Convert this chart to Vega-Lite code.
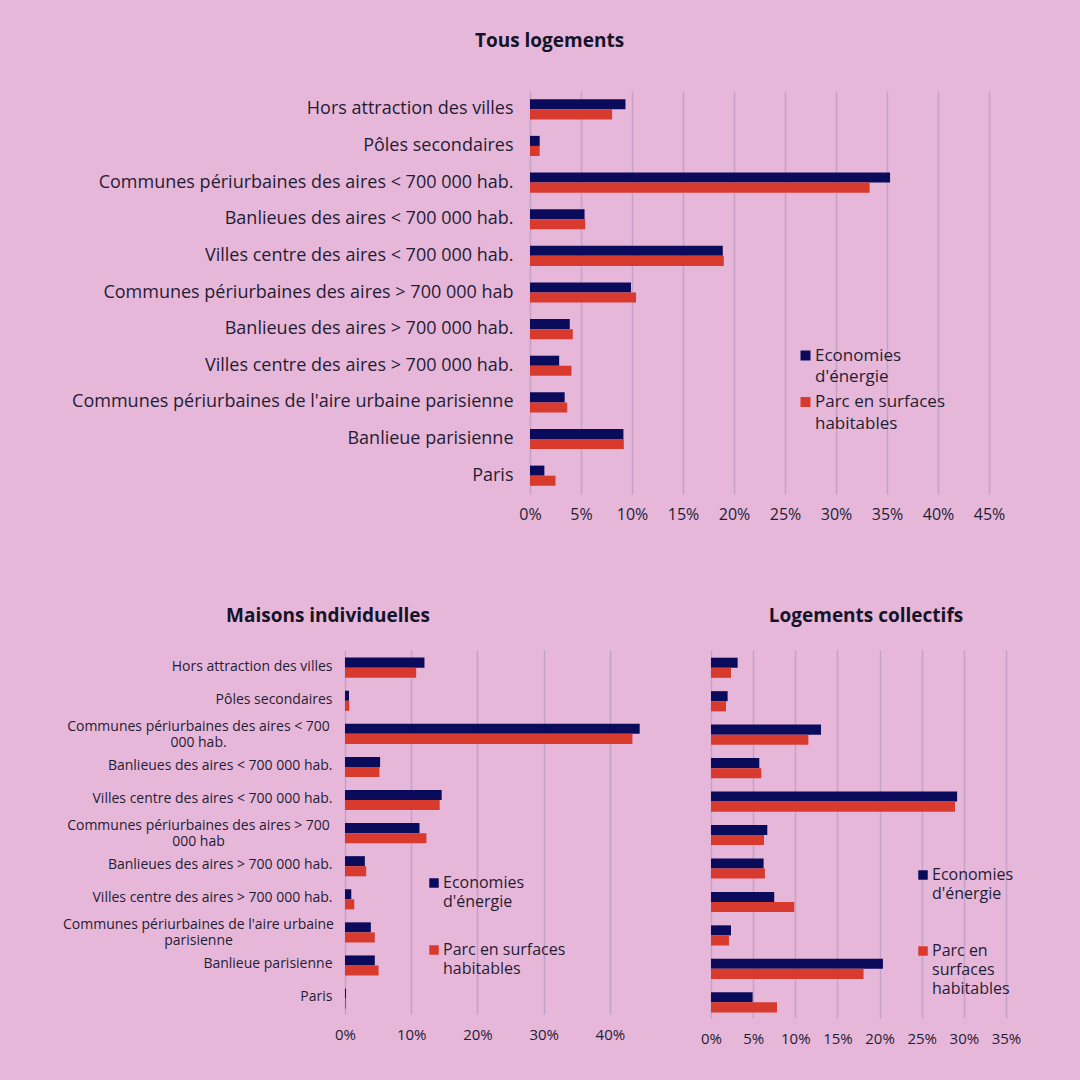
{
  "$schema": "https://vega.github.io/schema/vega-lite/v6.json",
  "background": "#e7b7da",
  "padding": {"left": 62, "top": 31, "right": 90, "bottom": 90},
  "config": {
    "view": {"stroke": null},
    "font": "Open Sans",
    "axis": {"labelFont": "Open Sans", "labelColor": "#1f1d33", "domain": false, "ticks": false, "tickSize": 0, "grid": false, "title": null, "labelFlush": false},
    "legend": {"labelFont": "Open Sans", "labelColor": "#1f1d33"},
    "title": {"font": "Open Sans", "fontWeight": "bold", "color": "#141428", "fontSize": 19}
  },
  "datasets": {
    "d": [
      {"panel": "Tous logements", "zone": "Hors attraction des villes", "serie": "Economies d'énergie", "part": 0.0936},
      {"panel": "Tous logements", "zone": "Hors attraction des villes", "serie": "Parc en surfaces habitables", "part": 0.0805},
      {"panel": "Tous logements", "zone": "Pôles secondaires", "serie": "Economies d'énergie", "part": 0.0095},
      {"panel": "Tous logements", "zone": "Pôles secondaires", "serie": "Parc en surfaces habitables", "part": 0.0095},
      {"panel": "Tous logements", "zone": "Communes périurbaines des aires < 700 000 hab.", "serie": "Economies d'énergie", "part": 0.353},
      {"panel": "Tous logements", "zone": "Communes périurbaines des aires < 700 000 hab.", "serie": "Parc en surfaces habitables", "part": 0.333},
      {"panel": "Tous logements", "zone": "Banlieues des aires < 700 000 hab.", "serie": "Economies d'énergie", "part": 0.0535},
      {"panel": "Tous logements", "zone": "Banlieues des aires < 700 000 hab.", "serie": "Parc en surfaces habitables", "part": 0.0542},
      {"panel": "Tous logements", "zone": "Villes centre des aires < 700 000 hab.", "serie": "Economies d'énergie", "part": 0.189},
      {"panel": "Tous logements", "zone": "Villes centre des aires < 700 000 hab.", "serie": "Parc en surfaces habitables", "part": 0.190},
      {"panel": "Tous logements", "zone": "Communes périurbaines des aires > 700 000 hab", "serie": "Economies d'énergie", "part": 0.099},
      {"panel": "Tous logements", "zone": "Communes périurbaines des aires > 700 000 hab", "serie": "Parc en surfaces habitables", "part": 0.104},
      {"panel": "Tous logements", "zone": "Banlieues des aires > 700 000 hab.", "serie": "Economies d'énergie", "part": 0.039},
      {"panel": "Tous logements", "zone": "Banlieues des aires > 700 000 hab.", "serie": "Parc en surfaces habitables", "part": 0.042},
      {"panel": "Tous logements", "zone": "Villes centre des aires > 700 000 hab.", "serie": "Economies d'énergie", "part": 0.0286},
      {"panel": "Tous logements", "zone": "Villes centre des aires > 700 000 hab.", "serie": "Parc en surfaces habitables", "part": 0.0407},
      {"panel": "Tous logements", "zone": "Communes périurbaines de l'aire urbaine parisienne", "serie": "Economies d'énergie", "part": 0.034},
      {"panel": "Tous logements", "zone": "Communes périurbaines de l'aire urbaine parisienne", "serie": "Parc en surfaces habitables", "part": 0.0365},
      {"panel": "Tous logements", "zone": "Banlieue parisienne", "serie": "Economies d'énergie", "part": 0.0916},
      {"panel": "Tous logements", "zone": "Banlieue parisienne", "serie": "Parc en surfaces habitables", "part": 0.092},
      {"panel": "Tous logements", "zone": "Paris", "serie": "Economies d'énergie", "part": 0.0141},
      {"panel": "Tous logements", "zone": "Paris", "serie": "Parc en surfaces habitables", "part": 0.025},

      {"panel": "Maisons individuelles", "zone": "Hors attraction des villes", "serie": "Economies d'énergie", "part": 0.120},
      {"panel": "Maisons individuelles", "zone": "Hors attraction des villes", "serie": "Parc en surfaces habitables", "part": 0.1075},
      {"panel": "Maisons individuelles", "zone": "Pôles secondaires", "serie": "Economies d'énergie", "part": 0.006},
      {"panel": "Maisons individuelles", "zone": "Pôles secondaires", "serie": "Parc en surfaces habitables", "part": 0.0065},
      {"panel": "Maisons individuelles", "zone": "Communes périurbaines des aires < 700 000 hab.", "serie": "Economies d'énergie", "part": 0.445},
      {"panel": "Maisons individuelles", "zone": "Communes périurbaines des aires < 700 000 hab.", "serie": "Parc en surfaces habitables", "part": 0.434},
      {"panel": "Maisons individuelles", "zone": "Banlieues des aires < 700 000 hab.", "serie": "Economies d'énergie", "part": 0.053},
      {"panel": "Maisons individuelles", "zone": "Banlieues des aires < 700 000 hab.", "serie": "Parc en surfaces habitables", "part": 0.052},
      {"panel": "Maisons individuelles", "zone": "Villes centre des aires < 700 000 hab.", "serie": "Economies d'énergie", "part": 0.146},
      {"panel": "Maisons individuelles", "zone": "Villes centre des aires < 700 000 hab.", "serie": "Parc en surfaces habitables", "part": 0.143},
      {"panel": "Maisons individuelles", "zone": "Communes périurbaines des aires > 700 000 hab", "serie": "Economies d'énergie", "part": 0.1125},
      {"panel": "Maisons individuelles", "zone": "Communes périurbaines des aires > 700 000 hab", "serie": "Parc en surfaces habitables", "part": 0.123},
      {"panel": "Maisons individuelles", "zone": "Banlieues des aires > 700 000 hab.", "serie": "Economies d'énergie", "part": 0.030},
      {"panel": "Maisons individuelles", "zone": "Banlieues des aires > 700 000 hab.", "serie": "Parc en surfaces habitables", "part": 0.032},
      {"panel": "Maisons individuelles", "zone": "Villes centre des aires > 700 000 hab.", "serie": "Economies d'énergie", "part": 0.0095},
      {"panel": "Maisons individuelles", "zone": "Villes centre des aires > 700 000 hab.", "serie": "Parc en surfaces habitables", "part": 0.014},
      {"panel": "Maisons individuelles", "zone": "Communes périurbaines de l'aire urbaine parisienne", "serie": "Economies d'énergie", "part": 0.039},
      {"panel": "Maisons individuelles", "zone": "Communes périurbaines de l'aire urbaine parisienne", "serie": "Parc en surfaces habitables", "part": 0.045},
      {"panel": "Maisons individuelles", "zone": "Banlieue parisienne", "serie": "Economies d'énergie", "part": 0.045},
      {"panel": "Maisons individuelles", "zone": "Banlieue parisienne", "serie": "Parc en surfaces habitables", "part": 0.0507},
      {"panel": "Maisons individuelles", "zone": "Paris", "serie": "Economies d'énergie", "part": 0.0015},
      {"panel": "Maisons individuelles", "zone": "Paris", "serie": "Parc en surfaces habitables", "part": 0.0015},

      {"panel": "Logements collectifs", "zone": "Hors attraction des villes", "serie": "Economies d'énergie", "part": 0.0316},
      {"panel": "Logements collectifs", "zone": "Hors attraction des villes", "serie": "Parc en surfaces habitables", "part": 0.0237},
      {"panel": "Logements collectifs", "zone": "Pôles secondaires", "serie": "Economies d'énergie", "part": 0.0197},
      {"panel": "Logements collectifs", "zone": "Pôles secondaires", "serie": "Parc en surfaces habitables", "part": 0.0178},
      {"panel": "Logements collectifs", "zone": "Communes périurbaines des aires < 700 000 hab.", "serie": "Economies d'énergie", "part": 0.1305},
      {"panel": "Logements collectifs", "zone": "Communes périurbaines des aires < 700 000 hab.", "serie": "Parc en surfaces habitables", "part": 0.1155},
      {"panel": "Logements collectifs", "zone": "Banlieues des aires < 700 000 hab.", "serie": "Economies d'énergie", "part": 0.0573},
      {"panel": "Logements collectifs", "zone": "Banlieues des aires < 700 000 hab.", "serie": "Parc en surfaces habitables", "part": 0.0597},
      {"panel": "Logements collectifs", "zone": "Villes centre des aires < 700 000 hab.", "serie": "Economies d'énergie", "part": 0.292},
      {"panel": "Logements collectifs", "zone": "Villes centre des aires < 700 000 hab.", "serie": "Parc en surfaces habitables", "part": 0.2895},
      {"panel": "Logements collectifs", "zone": "Communes périurbaines des aires > 700 000 hab", "serie": "Economies d'énergie", "part": 0.0668},
      {"panel": "Logements collectifs", "zone": "Communes périurbaines des aires > 700 000 hab", "serie": "Parc en surfaces habitables", "part": 0.0629},
      {"panel": "Logements collectifs", "zone": "Banlieues des aires > 700 000 hab.", "serie": "Economies d'énergie", "part": 0.0624},
      {"panel": "Logements collectifs", "zone": "Banlieues des aires > 700 000 hab.", "serie": "Parc en surfaces habitables", "part": 0.064},
      {"panel": "Logements collectifs", "zone": "Villes centre des aires > 700 000 hab.", "serie": "Economies d'énergie", "part": 0.075},
      {"panel": "Logements collectifs", "zone": "Villes centre des aires > 700 000 hab.", "serie": "Parc en surfaces habitables", "part": 0.0988},
      {"panel": "Logements collectifs", "zone": "Communes périurbaines de l'aire urbaine parisienne", "serie": "Economies d'énergie", "part": 0.0237},
      {"panel": "Logements collectifs", "zone": "Communes périurbaines de l'aire urbaine parisienne", "serie": "Parc en surfaces habitables", "part": 0.0213},
      {"panel": "Logements collectifs", "zone": "Banlieue parisienne", "serie": "Economies d'énergie", "part": 0.204},
      {"panel": "Logements collectifs", "zone": "Banlieue parisienne", "serie": "Parc en surfaces habitables", "part": 0.181},
      {"panel": "Logements collectifs", "zone": "Paris", "serie": "Economies d'énergie", "part": 0.0494},
      {"panel": "Logements collectifs", "zone": "Paris", "serie": "Parc en surfaces habitables", "part": 0.0783}
    ]
  },
  "data": {"name": "d"},
  "spacing": 84,
  "resolve": {"scale": {"color": "independent", "x": "independent", "y": "independent"}, "legend": {"color": "independent"}},
  "vconcat": [
    {
      "width": 644,
      "height": 403,
      "title": {"text": "Tous logements", "anchor": "middle", "frame": "group", "dx": -117.5, "offset": 40.5},
      "transform": [{"filter": "datum.panel == 'Tous logements'"}],
      "mark": {"type": "bar"},
      "encoding": {
        "y": {"field": "zone", "type": "nominal", "sort": null,
              "scale": {"paddingInner": 0.45, "paddingOuter": 0.225},
              "axis": {"labelFontSize": 18, "labelPadding": 17, "labelLimit": 700, "offset": -185}},
        "yOffset": {"field": "serie", "type": "nominal", "scale": {"paddingInner": 0, "paddingOuter": 0}},
        "x": {"field": "part", "type": "quantitative",
              "scale": {"domain": [-0.18137, 0.45], "nice": false, "zero": false},
              "axis": {"values": [0, 0.05, 0.1, 0.15, 0.2, 0.25, 0.3, 0.35, 0.4, 0.45], "format": ".0%", "grid": true, "gridColor": "#c4a2c6", "gridWidth": 1.5, "labelFontSize": 16, "labelPadding": 12}},
        "color": {"field": "serie", "type": "nominal",
                  "scale": {"domain": ["Economies d'énergie", "Parc en surfaces habitables"], "range": ["#0b0b5c", "#d83b2e"]},
                  "legend": {"title": null, "orient": "none", "legendX": 452, "legendY": 256, "labelFontSize": 17, "symbolType": "square", "symbolSize": 100, "symbolStrokeWidth": 0, "labelOffset": 1, "rowPadding": 7.5,
                             "encode": {"labels": {"update": {"lineHeight": {"value": 21.5}}}},
                             "labelExpr": "datum.label == \"Economies d'énergie\" ? ['Economies', \"d'énergie\"] : ['Parc en surfaces', 'habitables']"}}
      }
    },
    {
      "spacing": 57,
      "resolve": {"scale": {"color": "independent", "x": "independent", "y": "independent"}, "legend": {"color": "independent"}},
      "hconcat": [
        {
          "width": 298,
          "height": 364,
          "title": {"text": "Maisons individuelles", "anchor": "middle", "frame": "group", "dx": -166, "offset": 24.5},
          "transform": [{"filter": "datum.panel == 'Maisons individuelles'"}],
          "mark": {"type": "bar"},
          "encoding": {
            "y": {"field": "zone", "type": "nominal", "sort": null,
                  "scale": {"paddingInner": 0.46, "paddingOuter": 0.23},
                  "axis": {"labelFontSize": 14, "labelLimit": 500, "labelLineHeight": 16,
                           "labelPadding": {"condition": {"test": "indexof(datum.value, 'Communes') == 0", "value": 147}, "value": 13},
                           "labelAlign": {"condition": {"test": "indexof(datum.value, 'Communes') == 0", "value": "center"}, "value": "right"},
                           "labelOffset": {"condition": {"test": "indexof(datum.value, 'Communes') == 0", "value": -6}, "value": 0},
                           "labelExpr": "datum.value == 'Communes périurbaines des aires < 700 000 hab.' ? ['Communes périurbaines des aires < 700', '000 hab.'] : datum.value == 'Communes périurbaines des aires > 700 000 hab' ? ['Communes périurbaines des aires > 700', '000 hab'] : datum.value == \"Communes périurbaines de l'aire urbaine parisienne\" ? [\"Communes périurbaines de l'aire urbaine\", 'parisienne'] : datum.value"}},
            "yOffset": {"field": "serie", "type": "nominal", "scale": {"paddingInner": 0, "paddingOuter": 0}},
            "x": {"field": "part", "type": "quantitative",
                  "scale": {"domain": [0, 0.45], "nice": false},
                  "axis": {"values": [0, 0.1, 0.2, 0.3, 0.4], "format": ".0%", "grid": true, "gridColor": "#bfa2c9", "gridWidth": 1.5, "labelFontSize": 15, "labelPadding": 13}},
            "color": {"field": "serie", "type": "nominal",
                      "scale": {"domain": ["Economies d'énergie", "Parc en surfaces habitables"], "range": ["#0b0b5c", "#d83b2e"]},
                      "legend": {"title": null, "orient": "none", "legendX": 81, "legendY": 225, "labelFontSize": 16, "symbolType": "square", "symbolSize": 90, "symbolStrokeWidth": 0, "labelOffset": 1, "rowPadding": 32,
                                 "encode": {"labels": {"update": {"lineHeight": {"value": 19}}}},
                                 "labelExpr": "datum.label == \"Economies d'énergie\" ? ['Economies', \"d'énergie\"] : ['Parc en surfaces', 'habitables']"}}
          }
        },
        {
          "width": 295,
          "height": 368,
          "title": {"text": "Logements collectifs", "anchor": "middle", "frame": "group", "dx": 7.5, "offset": 24.5},
          "transform": [{"filter": "datum.panel == 'Logements collectifs'"}],
          "mark": {"type": "bar"},
          "encoding": {
            "y": {"field": "zone", "type": "nominal", "sort": null,
                  "scale": {"paddingInner": 0.46, "paddingOuter": 0.23},
                  "axis": null},
            "yOffset": {"field": "serie", "type": "nominal", "scale": {"paddingInner": 0, "paddingOuter": 0}},
            "x": {"field": "part", "type": "quantitative",
                  "scale": {"domain": [0, 0.35], "nice": false},
                  "axis": {"values": [0, 0.05, 0.1, 0.15, 0.2, 0.25, 0.3, 0.35], "format": ".0%", "grid": true, "gridColor": "#c4a2c6", "gridWidth": 1.5, "labelFontSize": 15, "labelPadding": 13}},
            "color": {"field": "serie", "type": "nominal",
                      "scale": {"domain": ["Economies d'énergie", "Parc en surfaces habitables"], "range": ["#0b0b5c", "#d83b2e"]},
                      "legend": {"title": null, "orient": "none", "legendX": 204, "legendY": 217, "labelFontSize": 16, "symbolType": "square", "symbolSize": 90, "symbolStrokeWidth": 0, "labelOffset": 1, "rowPadding": 41,
                                 "encode": {"labels": {"update": {"lineHeight": {"value": 19}}}},
                                 "labelExpr": "datum.label == \"Economies d'énergie\" ? ['Economies', \"d'énergie\"] : ['Parc en', 'surfaces', 'habitables']"}}
          }
        }
      ]
    }
  ]
}
